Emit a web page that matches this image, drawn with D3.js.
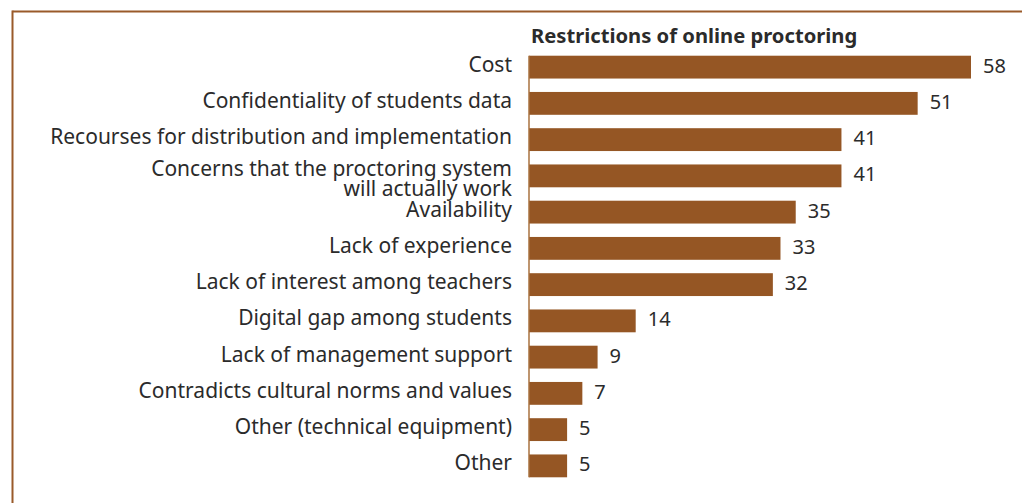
<!DOCTYPE html>
<html><head><meta charset="utf-8">
<script src="https://cdn.jsdelivr.net/npm/d3@7"></script>
<style>body{margin:0;background:#fff;} svg{display:block;font-family:"Noto Sans",sans-serif;}</style>
</head><body>
<svg id="chart" width="1022" height="503"></svg>
<script>
const categories = ["Cost","Confidentiality of students data","Recourses for distribution and implementation","Concerns that the proctoring system\nwill actually work","Availability","Lack of experience","Lack of interest among teachers","Digital gap among students","Lack of management support","Contradicts cultural norms and values","Other (technical equipment)","Other"];
const values = [58,51,41,41,35,33,32,14,9,7,5,5];
const title = "Restrictions of online proctoring";

const svg = d3.select("#chart");
const barColor = "#955624";
const textColor = "#2b2b2b";

// frame lines
svg.append("line").attr("x1",12.5).attr("x2",1022).attr("y1",11.5).attr("y2",11.5).attr("stroke","#9a5a2a").attr("stroke-width",2);
svg.append("line").attr("x1",12.5).attr("x2",12.5).attr("y1",10.5).attr("y2",503).attr("stroke","#9a5a2a").attr("stroke-width",2);

const x = d3.scaleLinear().domain([0,58]).range([529,971]);
const y = d3.scaleBand().domain(categories).range([49,484]).paddingInner(0.37).paddingOuter(0.185);

svg.append("text").attr("x",531).attr("y",43).attr("font-weight","bold").attr("font-size",20.2).attr("fill",textColor).text(title);

svg.selectAll("rect.bar").data(values).join("rect").attr("class","bar")
  .attr("x",x(0)).attr("y",(d,i)=>y(categories[i])).attr("width",d=>x(d)-x(0)).attr("height",y.bandwidth()).attr("fill",barColor);

// axis line
svg.append("line").attr("x1",529).attr("x2",529).attr("y1",y(categories[0])).attr("y2",y(categories[categories.length-1])+y.bandwidth()).attr("stroke","#a8723f").attr("stroke-width",1.5);

svg.selectAll("text.val").data(values).join("text").attr("class","val")
  .attr("x",d=>x(d)+12).attr("y",(d,i)=>y(categories[i])+y.bandwidth()/2).attr("dy","0.27em")
  .attr("font-size",20).attr("fill",textColor).text(d=>d);

const lbl = svg.selectAll("text.lbl").data(categories).join("text").attr("class","lbl")
  .attr("text-anchor","end").attr("font-size",21).attr("fill",textColor)
  .attr("y",d=>y(d)+y.bandwidth()/2);
lbl.each(function(d){
  const lines = d.split("\n");
  const t = d3.select(this);
  lines.forEach((l,i)=>{
    t.append("tspan").attr("x",512).attr("dy", i===0 ? (lines.length>1 ? "0em" : "0.22em") : "0.95em").text(l);
  });
});
</script>
</body></html>
